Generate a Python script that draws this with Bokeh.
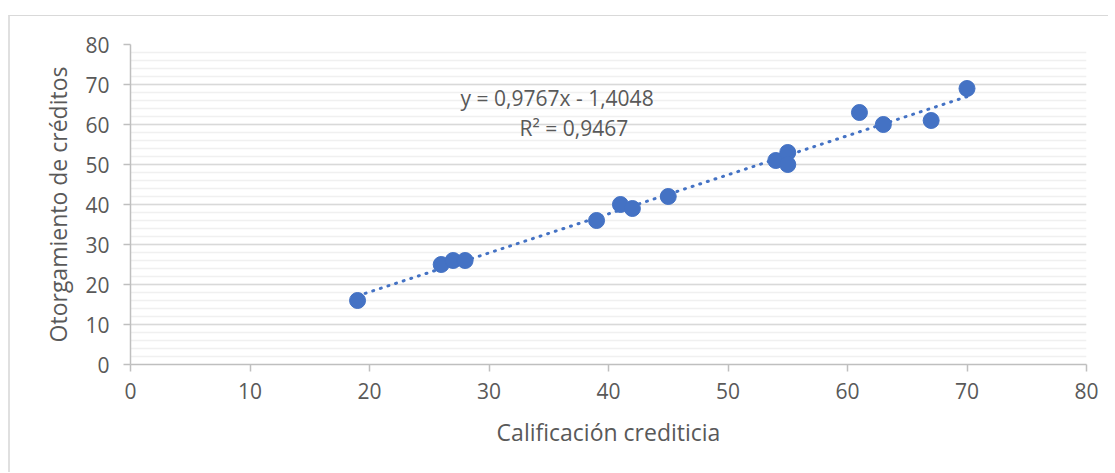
from bokeh.plotting import figure
from bokeh.models import Range1d, Label, FixedTicker
from bokeh.embed import file_html
from bokeh.resources import INLINE

# Data
calificacion = [19, 26, 27, 28, 39, 41, 42, 45, 54, 55, 55, 61, 63, 67, 70]
otorgamiento = [16, 25, 26, 26, 36, 40, 39, 42, 51, 53, 50, 63, 60, 61, 69]
slope = 0.9767
intercept = -1.4048
eq_text = "y = 0,9767x - 1,4048"
r2_text = "R² = 0,9467"
x_ticks = [0, 10, 20, 30, 40, 50, 60, 70, 80]
y_ticks = [0, 10, 20, 30, 40, 50, 60, 70, 80]

BLUE = "#4472C4"
TXT = "#595959"
FONT = "Open Sans"

p = figure(width=1100, height=457, output_backend="svg", toolbar_location=None,
           x_range=Range1d(0, 80), y_range=Range1d(0, 80),
           min_border_left=120, min_border_right=24, min_border_top=28, min_border_bottom=109)
p.styles = {"margin-top": "15px", "margin-left": "8px",
            "border-top": "1px solid #d9d9d9", "border-left": "2px solid #e0e0e0"}
p.outline_line_color = None

# grids
p.xgrid.grid_line_color = None
p.ygrid.ticker = FixedTicker(ticks=y_ticks, minor_ticks=list(range(0, 81, 2)))
p.ygrid.grid_line_color = "#d9d9d9"
p.ygrid.grid_line_width = 1.5
p.ygrid.minor_grid_line_color = "#f0f0f0"
p.ygrid.minor_grid_line_width = 1.5

for ax, ticks in ((p.xaxis, x_ticks), (p.yaxis, y_ticks)):
    ax.ticker = FixedTicker(ticks=ticks)
    ax.axis_line_color = "#bfbfbf"
    ax.axis_line_width = 1.5
    ax.major_tick_line_color = "#bfbfbf"
    ax.major_tick_line_width = 1.5
    ax.major_tick_out = 7
    ax.major_tick_in = 0
    ax.minor_tick_line_color = None
    ax.major_label_text_font = FONT
    ax.major_label_text_font_size = "21px"
    ax.major_label_text_color = TXT
    ax.axis_label_text_font = FONT
    ax.axis_label_text_font_size = "23px"
    ax.axis_label_text_color = TXT
    ax.axis_label_text_font_style = "normal"

p.xaxis.axis_label = "Calificación crediticia"
p.yaxis.axis_label = "Otorgamiento de créditos"
p.xaxis.major_label_standoff = 11
p.yaxis.major_label_standoff = 14
p.xaxis.axis_label_standoff = 14
p.yaxis.axis_label_standoff = 8

# trendline
xs = [min(calificacion), max(calificacion)]
ys = [slope * x + intercept for x in xs]
p.line(xs, ys, line_color=BLUE, line_width=3, line_dash="1 7", line_cap="round")

p.scatter(calificacion, otorgamiento, size=16, color=BLUE, line_color=BLUE)

p.add_layout(Label(x=35.7, y=66.75, text=eq_text, text_align="center", text_baseline="middle",
                   text_font=FONT, text_font_size="21px", text_color=TXT))
p.add_layout(Label(x=37.1, y=59.25, text=r2_text, text_align="center", text_baseline="middle",
                   text_font=FONT, text_font_size="21px", text_color=TXT))

open("out.html", "w").write(file_html(p, INLINE))
